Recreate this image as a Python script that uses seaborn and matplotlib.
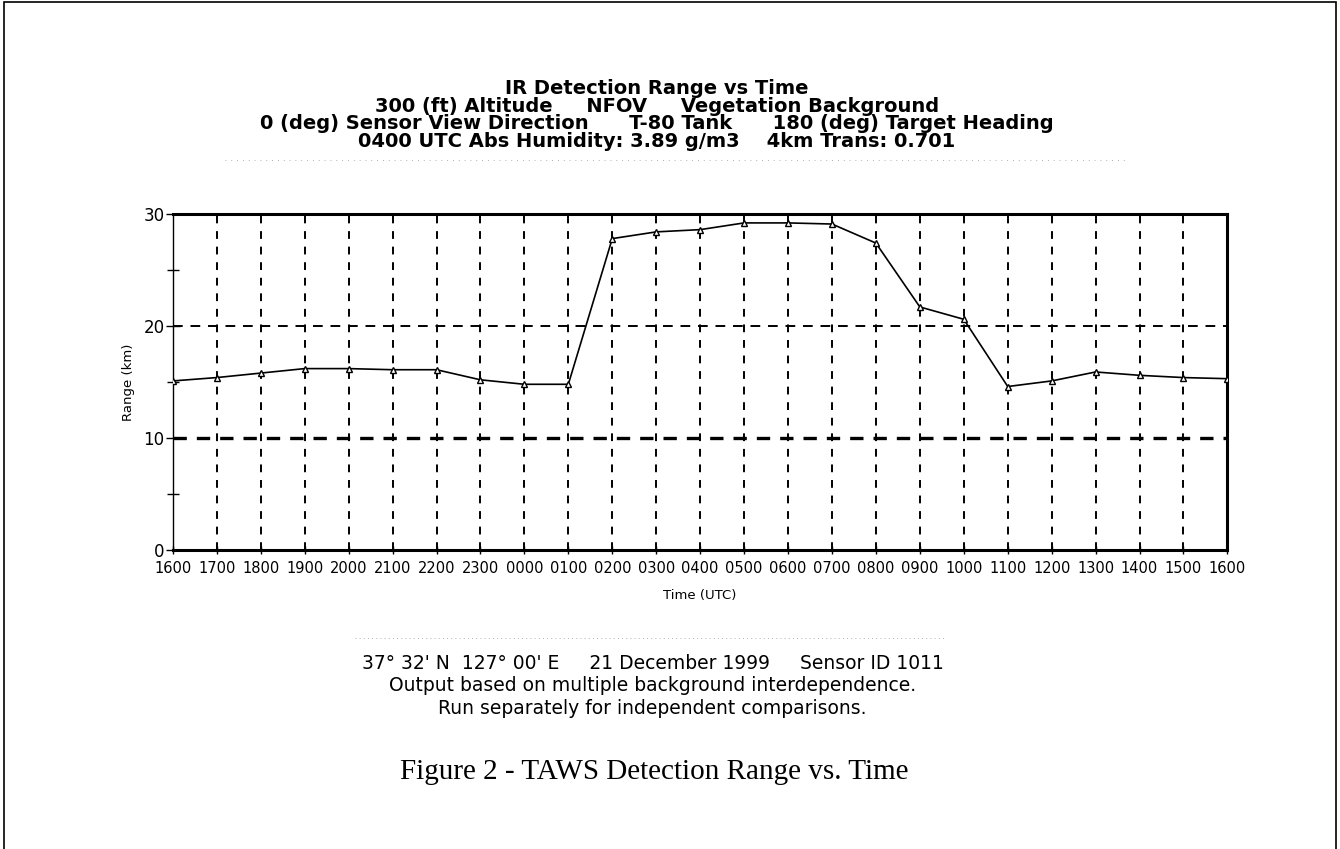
"""
IR Detection Range vs Time (TAWS figure 2 recreation)
"""
import matplotlib
matplotlib.use('Agg')
import matplotlib.pyplot as plt
import seaborn as sns
import pandas as pd
from matplotlib.patches import Rectangle

# --- data ---
time_labels = ['1600', '1700', '1800', '1900', '2000', '2100', '2200', '2300', '0000',
               '0100', '0200', '0300', '0400', '0500', '0600', '0700', '0800', '0900',
               '1000', '1100', '1200', '1300', '1400', '1500', '1600']
range_km = [15.1, 15.4, 15.8, 16.2, 16.2, 16.1, 16.1, 15.2, 14.8,
            14.8, 27.8, 28.4, 28.6, 29.2, 29.2, 29.1, 27.4, 21.7,
            20.6, 14.6, 15.1, 15.9, 15.6, 15.4, 15.3]

title_lines = [
    'IR Detection Range vs Time',
    '300 (ft) Altitude     NFOV     Vegetation Background',
    '0 (deg) Sensor View Direction      T-80 Tank      180 (deg) Target Heading',
    '0400 UTC Abs Humidity: 3.89 g/m3    4km Trans: 0.701',
]
footer_lines = [
    "37\u00b0 32' N  127\u00b0 00' E     21 December 1999     Sensor ID 1011",
    'Output based on multiple background interdependence.',
    'Run separately for independent comparisons.',
]
caption = 'Figure 2 - TAWS Detection Range vs. Time'

df = pd.DataFrame({'pos': range(len(time_labels)), 'range': range_km})

sns.set_style('white')
plt.rcParams['font.family'] = ['DejaVu Sans']
plt.rcParams['text.color'] = 'black'
plt.rcParams['axes.labelcolor'] = 'black'
plt.rcParams['xtick.color'] = 'black'
plt.rcParams['ytick.color'] = 'black'

fig = plt.figure(figsize=(13.4, 8.49), dpi=100)
ax = fig.add_axes([0.129, 0.352, 0.787, 0.396])

# grid lines
for i in range(1, len(time_labels) - 1):
    ax.axvline(i, color='black', lw=1.4, dashes=(4, 4), zorder=1)
ax.axhline(20, color='black', lw=1.4, dashes=(5, 4), zorder=1)
ax.axhline(10, color='black', lw=2.4, dashes=(4, 3), zorder=1)

sns.lineplot(x='pos', y='range', data=df, ax=ax, color='black', lw=1.2,
             marker='^', markersize=5, markeredgewidth=1.0,
             markeredgecolor='black', markerfacecolor='white', zorder=3)

ax.set_xlim(0, len(time_labels) - 1)
ax.set_ylim(0, 30)
ax.set_xticks(range(len(time_labels)))
ax.set_xticklabels(time_labels, fontsize=10.5)
ax.set_yticks([0, 10, 20, 30])
ax.set_yticklabels(['0', '10', '20', '30'], fontsize=12)
ax.set_yticks([5, 15, 25], minor=True)
ax.tick_params(axis='y', which='major', direction='inout', length=10, width=1, left=True, pad=1)
ax.tick_params(axis='y', which='minor', direction='inout', length=8, width=1, left=True)
ax.tick_params(axis='x', which='major', direction='inout', length=6, width=1, bottom=True, pad=5)
ax.set_xlabel('Time (UTC)', fontsize=9.5, labelpad=9)
ax.set_ylabel('Range (km)', fontsize=9.5, labelpad=6)

for side, w in [('left', 1.0), ('bottom', 2.2), ('top', 2.2), ('right', 2.2)]:
    ax.spines[side].set_visible(True)
    ax.spines[side].set_color('black')
    ax.spines[side].set_linewidth(w)

# title block
ys = [0.896, 0.875, 0.854, 0.833]
for txt, y in zip(title_lines, ys):
    fig.text(0.49, y, txt, ha='center', va='center', fontsize=14, fontweight='bold')

# footer block
ys = [0.219, 0.192, 0.165]
for txt, y in zip(footer_lines, ys):
    fig.text(0.487, y, txt, ha='center', va='center', fontsize=13.5)

# faint scan rules
fig.add_artist(plt.Line2D([0.168, 0.84], [0.812, 0.812], color='0.6', lw=0.6, ls=(0, (1, 6))))
fig.add_artist(plt.Line2D([0.265, 0.705], [0.249, 0.249], color='0.6', lw=0.6, ls=(0, (1, 4))))

fig.text(0.488, 0.091, caption, ha='center', va='center', fontsize=21,
         family=['Liberation Serif', 'DejaVu Serif'])

# page frame
fig.add_artist(Rectangle((0.003, -0.01), 0.994, 1.0075, transform=fig.transFigure,
                         fill=False, edgecolor='black', lw=1.2))

fig.savefig('out.png', dpi=100)
